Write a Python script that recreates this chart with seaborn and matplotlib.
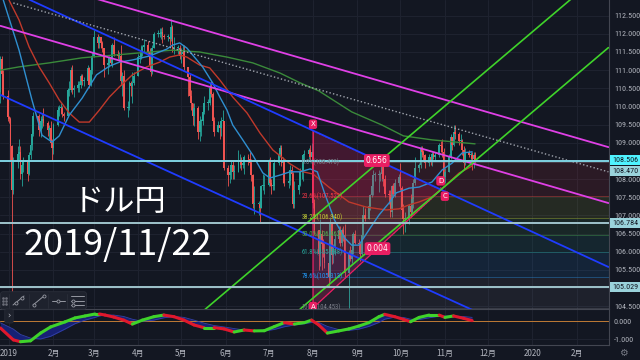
import numpy as np
import pandas as pd
import matplotlib
matplotlib.use("Agg")
import matplotlib.pyplot as plt
import matplotlib.dates as mdates
from matplotlib.patches import Polygon, FancyBboxPatch
from matplotlib.ticker import FormatStrFormatter, FuncFormatter
from matplotlib import font_manager
import seaborn as sns

# ------------------------------------------------------------------ data
start_date = "2018-12-24"
end_date = "2019-11-22"
first_open = 111.20
closes = [
    110.30, 110.40, 111.30, 110.90, 110.30, 109.70, 109.65, 108.90, 107.70, 108.50,
    108.70, 108.75, 108.15, 108.40, 108.50, 108.15, 108.65, 108.95, 109.25, 109.75,
    109.65, 109.35, 109.60, 109.65, 109.55, 109.35, 109.40, 109.00, 108.85, 109.50,
    109.90, 109.95, 109.95, 109.80, 109.75, 110.45, 110.45, 111.00, 110.45, 110.50,
    110.60, 110.60, 110.85, 110.70, 110.70, 111.05, 110.60, 111.00, 111.40, 111.90,
    111.75, 111.90, 111.75, 111.60, 111.15, 111.20, 111.35, 111.20, 111.70, 111.45,
    111.40, 111.40, 110.70, 110.85, 109.95, 109.95, 110.65, 110.55, 110.65, 110.85,
    111.35, 111.35, 111.50, 111.65, 111.70, 111.50, 111.15, 110.95, 111.60, 112.00,
    112.00, 112.00, 112.05, 111.95, 111.90, 111.90, 111.85, 112.20, 111.60, 111.60,
    111.60, 111.40, 111.45, 111.50, 111.10, 110.80, 110.30, 110.10, 109.75, 109.95,
    109.30, 109.60, 109.60, 109.85, 110.10, 110.10, 110.50, 110.35, 109.60, 109.30,
    109.50, 109.40, 109.60, 109.60, 108.30, 108.10, 108.20, 108.40, 108.20, 108.20,
    108.50, 108.50, 108.40, 108.40, 108.60, 108.55, 108.45, 108.10, 107.30, 107.30,
    107.30, 107.20, 107.80, 107.80, 107.85, 108.50, 107.90, 107.80, 107.80, 108.45,
    108.70, 108.85, 108.45, 108.50, 107.90, 107.95, 108.25, 108.15, 107.30, 107.70,
    107.85, 108.20, 108.20, 108.65, 108.70, 108.80, 108.60, 108.75, 107.35, 106.60,
    105.95, 106.50, 106.20, 106.05, 105.70, 105.30, 106.75, 105.90, 106.10, 106.35,
    106.60, 106.25, 106.60, 106.45, 105.40, 105.95, 105.80, 106.05, 106.50, 106.25,
    106.20, 105.95, 106.45, 107.00, 106.90, 107.25, 107.55, 107.80, 108.10, 108.10,
    108.10, 108.15, 108.45, 108.00, 107.60, 107.55, 107.10, 107.80, 107.60, 107.90,
    108.05, 107.75, 107.15, 106.90, 106.90, 107.25, 107.10, 107.45, 107.90, 108.30,
    108.40, 108.85, 108.75, 108.65, 108.45, 108.60, 108.50, 108.70, 108.60, 108.65,
    108.95, 108.90, 108.75, 108.05, 108.20, 108.60, 109.15, 108.95, 109.30, 109.25,
    109.05, 109.05, 108.80, 108.45, 108.75, 108.65, 108.65, 108.55, 108.65, 108.51]
highs = [
    111.35, 110.55, 111.40, 111.40, 111.00, 110.45, 109.75, 109.70, 108.95, 108.60,
    108.90, 109.10, 108.90, 108.50, 108.60, 108.50, 108.75, 109.10, 109.35, 109.85,
    109.75, 109.80, 109.75, 109.80, 109.95, 109.60, 109.50, 109.60, 109.10, 109.55,
    110.00, 110.05, 110.10, 110.00, 109.85, 110.50, 110.70, 111.10, 111.15, 110.60,
    110.70, 110.70, 110.90, 110.90, 110.80, 111.15, 111.10, 111.05, 111.50, 112.10,
    112.00, 111.95, 111.90, 111.80, 111.60, 111.30, 111.40, 111.50, 111.75, 111.90,
    111.55, 111.50, 111.70, 110.95, 111.00, 110.15, 110.70, 110.70, 110.95, 110.95,
    111.45, 111.45, 111.70, 111.70, 111.85, 111.80, 111.60, 111.20, 111.70, 112.05,
    112.10, 112.15, 112.15, 112.20, 112.00, 112.00, 112.00, 112.40, 112.25, 111.90,
    111.70, 111.70, 111.60, 111.70, 111.70, 111.10, 110.90, 110.45, 110.10, 110.10,
    110.00, 109.75, 109.65, 109.95, 110.30, 110.20, 110.65, 110.70, 110.40, 109.70,
    109.60, 109.60, 109.70, 109.90, 109.60, 108.40, 108.25, 108.50, 108.50, 108.40,
    108.80, 108.70, 108.60, 108.55, 108.65, 108.70, 108.75, 108.55, 108.15, 107.80,
    107.40, 107.40, 107.85, 108.15, 108.10, 108.55, 108.60, 108.00, 107.90, 108.55,
    108.75, 108.95, 108.95, 108.60, 108.50, 108.05, 108.40, 108.35, 108.20, 107.95,
    108.00, 108.30, 108.40, 108.70, 108.80, 108.85, 108.95, 109.00, 109.32, 107.45,
    106.60, 106.90, 106.60, 106.35, 106.25, 105.75, 106.95, 106.80, 106.20, 106.50,
    106.70, 106.70, 106.65, 106.70, 106.75, 106.05, 106.15, 106.10, 106.55, 106.60,
    106.35, 106.25, 106.50, 107.25, 107.20, 107.30, 107.60, 107.95, 108.25, 108.20,
    108.25, 108.20, 108.50, 108.50, 108.10, 107.70, 107.70, 107.85, 107.90, 108.00,
    108.15, 108.45, 107.80, 107.30, 107.10, 107.30, 107.60, 107.60, 108.00, 108.60,
    108.45, 108.90, 108.90, 108.80, 108.70, 108.70, 108.70, 108.75, 108.75, 108.75,
    109.00, 109.05, 109.10, 108.85, 108.30, 108.70, 109.25, 109.15, 109.50, 109.50,
    109.30, 109.25, 109.10, 108.90, 108.85, 108.80, 108.75, 108.75, 108.75, 108.75]
lows = [
    110.20, 110.20, 110.10, 110.50, 110.20, 109.60, 109.55, 108.50, 104.90, 107.60,
    108.30, 108.50, 108.00, 107.80, 108.20, 107.95, 108.10, 108.55, 108.80, 109.20,
    109.50, 109.20, 109.15, 109.40, 109.45, 109.20, 109.10, 108.90, 108.50, 108.70,
    109.45, 109.75, 109.80, 109.70, 109.60, 109.70, 110.30, 110.40, 110.35, 110.25,
    110.40, 110.40, 110.50, 110.60, 110.55, 110.65, 110.50, 110.55, 110.90, 111.35,
    111.60, 111.60, 111.60, 111.50, 110.80, 110.90, 111.10, 111.15, 111.10, 111.40,
    111.30, 111.25, 110.60, 110.30, 109.90, 109.70, 109.90, 110.30, 110.10, 110.60,
    110.85, 111.20, 111.30, 111.40, 111.50, 111.40, 111.10, 110.85, 110.90, 111.60,
    111.90, 111.90, 111.85, 111.75, 111.85, 111.80, 111.70, 111.80, 111.50, 111.45,
    111.45, 111.30, 111.20, 111.35, 111.00, 110.30, 110.20, 109.90, 109.50, 109.45,
    109.10, 109.05, 109.20, 109.50, 109.80, 109.90, 110.05, 110.25, 109.50, 109.20,
    109.30, 109.10, 109.20, 109.50, 108.25, 107.80, 107.90, 108.00, 108.00, 108.00,
    108.20, 108.30, 108.25, 108.30, 108.15, 108.40, 108.20, 107.95, 107.20, 107.05,
    107.00, 106.80, 107.20, 107.70, 107.60, 107.80, 107.80, 107.60, 107.70, 107.70,
    108.40, 108.60, 108.35, 107.90, 107.80, 107.75, 107.85, 107.95, 107.20, 107.20,
    107.60, 107.80, 108.00, 107.95, 108.50, 108.55, 108.50, 108.45, 107.20, 106.50,
    105.50, 105.60, 105.50, 105.85, 105.55, 105.05, 105.20, 105.65, 105.70, 105.90,
    106.25, 106.15, 106.15, 106.30, 105.30, 104.45, 105.75, 105.70, 105.95, 106.20,
    106.10, 105.75, 105.90, 106.40, 106.85, 106.90, 107.15, 107.50, 107.55, 107.95,
    107.65, 107.95, 107.95, 107.80, 107.50, 107.30, 106.95, 106.95, 107.50, 107.50,
    107.80, 107.70, 107.00, 106.50, 106.55, 106.75, 106.95, 107.00, 107.20, 107.85,
    108.20, 108.30, 108.60, 108.50, 108.30, 108.35, 108.40, 108.35, 108.55, 108.50,
    108.60, 108.75, 108.60, 107.90, 107.90, 108.20, 108.55, 108.80, 108.90, 109.10,
    108.95, 108.90, 108.65, 108.25, 108.40, 108.60, 108.40, 108.25, 108.30, 108.45]

blue_ma_dates = [
    "2018-12-28", "2019-01-08", "2019-01-17", "2019-01-24", "2019-01-31", "2019-02-05",
    "2019-02-12", "2019-02-21", "2019-03-03", "2019-03-12", "2019-03-19", "2019-03-28",
    "2019-04-09", "2019-04-21", "2019-04-25", "2019-04-30", "2019-05-05", "2019-05-12",
    "2019-05-16", "2019-05-23", "2019-05-28", "2019-06-02", "2019-06-06", "2019-06-13",
    "2019-06-20", "2019-06-27", "2019-07-02", "2019-07-09", "2019-07-16", "2019-07-23",
    "2019-07-30", "2019-08-04", "2019-08-09", "2019-08-16", "2019-08-23", "2019-08-28",
    "2019-09-02", "2019-09-09", "2019-09-16", "2019-09-23", "2019-09-28", "2019-10-07",
    "2019-10-14", "2019-10-23", "2019-10-30", "2019-11-06", "2019-11-13", "2019-11-20"]
blue_ma = [
    112.93, 111.55, 110.18, 109.21, 109.02, 109.19, 109.76, 110.23, 110.87, 111.11,
    111.22, 111.28, 111.39, 111.58, 111.69, 111.75, 111.61, 111.28, 111.09, 110.65,
    110.26, 109.90, 109.49, 109.08, 108.66, 108.17, 108.03, 108.11, 108.20, 108.20,
    108.28, 108.20, 107.62, 106.87, 106.38, 106.18, 106.18, 106.60, 107.01, 107.34,
    107.62, 107.75, 107.78, 107.92, 108.25, 108.44, 108.72, 108.75]
red_ma_dates = [
    "2019-01-01", "2019-01-08", "2019-01-15", "2019-01-22", "2019-01-29", "2019-02-05",
    "2019-02-12", "2019-02-19", "2019-02-26", "2019-03-05", "2019-03-12", "2019-03-19",
    "2019-03-28", "2019-04-07", "2019-04-16", "2019-04-23", "2019-04-30", "2019-05-05",
    "2019-05-14", "2019-05-21", "2019-05-28", "2019-06-06", "2019-06-16", "2019-06-25",
    "2019-07-04", "2019-07-16", "2019-07-25", "2019-08-01", "2019-08-12", "2019-08-26",
    "2019-09-07", "2019-09-21", "2019-09-30", "2019-10-07", "2019-10-14", "2019-10-23",
    "2019-11-01", "2019-11-11", "2019-11-20"]
red_ma = [
    112.93, 112.38, 111.64, 111.09, 110.65, 110.18, 109.82, 109.57, 109.57, 109.90,
    110.26, 110.54, 110.87, 111.09, 111.22, 111.36, 111.42, 111.36, 111.14, 111.06,
    110.73, 110.26, 109.82, 109.27, 108.80, 108.42, 108.20, 108.14, 107.78, 107.37,
    107.23, 107.15, 107.18, 107.29, 107.37, 107.51, 107.81, 108.17, 108.36]
green_ma_dates = [
    "2018-12-26", "2019-01-08", "2019-01-29", "2019-02-21", "2019-03-17", "2019-04-09",
    "2019-04-25", "2019-05-14", "2019-06-02", "2019-06-20", "2019-07-09", "2019-07-23",
    "2019-08-05", "2019-08-28", "2019-09-18", "2019-10-03", "2019-10-23", "2019-11-22"]
green_ma = [
    111.00, 111.09, 111.20, 111.34, 111.42, 111.50, 111.55, 111.50, 111.36, 111.20,
    110.92, 110.65, 110.43, 109.85, 109.49, 109.19, 109.08, 108.97]

# drawn trend lines: (start date, start price, end date, end price)
magenta_lines = [("2018-12-26", 113.73, "2020-02-23", 108.88),
                 ("2018-12-26", 112.22, "2020-02-23", 107.34)]
blue_lines = [("2018-12-26", 113.31, "2020-02-23", 105.58),
              ("2018-12-26", 110.32, "2020-02-23", 102.69)]
green_lines = [("2019-05-12", 104.22, "2020-01-31", 113.06),
               ("2019-07-23", 104.42, "2020-02-23", 111.62)]
dotted_line = ("2019-01-04", 112.85, "2020-02-23", 108.20)

level_prices = [108.506, 106.784, 105.029]
last_price = 108.506
ma_tag_price = 108.470

fib_start = "2019-08-01"
fib_label_date = "2019-07-24"
fib_pcts = ["0.0%", "23.6%", "38.2%", "50.0%", "61.8%", "78.6%", "100%"]
fib_prices = [108.470, 107.522, 106.940, 106.462, 105.988, 105.313, 104.453]

pattern_names = ["X", "A", "B", "C", "D"]
pattern_dates = ["2019-08-01", "2019-08-01", "2019-10-29", "2019-10-30", "2019-10-29"]
pattern_prices = [109.32, 104.45, 107.70, 107.72, 107.76]
ratio_xb = "0.656"
ratio_ac = "0.004"

macd_dates = [
    "2018-12-26", "2019-01-04", "2019-01-09", "2019-01-16", "2019-01-23", "2019-01-30",
    "2019-02-09", "2019-02-16", "2019-02-23", "2019-03-02", "2019-03-05", "2019-03-09",
    "2019-03-15", "2019-03-22", "2019-03-28", "2019-04-04", "2019-04-12", "2019-04-19",
    "2019-04-26", "2019-05-03", "2019-05-10", "2019-05-17", "2019-05-24", "2019-05-31",
    "2019-06-07", "2019-06-14", "2019-06-21", "2019-06-28", "2019-07-05", "2019-07-12",
    "2019-07-19", "2019-07-26", "2019-07-31", "2019-08-05", "2019-08-11", "2019-08-19",
    "2019-08-26", "2019-09-02", "2019-09-09", "2019-09-16", "2019-09-20", "2019-09-27",
    "2019-10-03", "2019-10-08", "2019-10-14", "2019-10-21", "2019-10-28", "2019-11-01",
    "2019-11-07", "2019-11-14", "2019-11-20"]
macd_vals = [
    -0.39, -1.05, -1.15, -1.10, -0.67, -0.33, -0.05, 0.17, 0.28, 0.39, 0.39, 0.33,
    0.22, 0.05, -0.17, 0.05, 0.24, 0.33, 0.24, 0.05, -0.22, -0.37, -0.37, -0.44,
    -0.61, -0.50, -0.55, -0.54, -0.31, -0.09, -0.17, -0.09, 0.05, -0.22, -0.67, -0.55,
    -0.44, -0.28, -0.09, 0.24, 0.37, 0.24, 0.09, -0.04, 0.20, 0.33, 0.33, 0.20,
    0.28, 0.15, 0.02]
signal_vals = [
    -0.10, -0.45, -0.75, -0.95, -1.00, -0.85, -0.45, -0.15, 0.05, 0.20, 0.28, 0.33,
    0.33, 0.25, 0.10, -0.02, 0.05, 0.18, 0.25, 0.20, 0.05, -0.12, -0.25, -0.33,
    -0.42, -0.50, -0.53, -0.55, -0.47, -0.32, -0.22, -0.15, -0.08, -0.08, -0.30, -0.48,
    -0.52, -0.45, -0.30, -0.08, 0.10, 0.22, 0.20, 0.10, 0.08, 0.18, 0.27, 0.28,
    0.27, 0.25, 0.20]

month_ticks = pd.date_range("2019-01-01", "2020-02-01", freq="MS")
month_labels = ["2019", "2月", "3月", "4月", "5月", "6月", "7月", "8月", "9月",
                "10月", "11月", "12月", "2020", "2月"]
price_ticks = [104.5, 105.0, 105.5, 106.0, 106.5, 107.0, 107.5, 108.0, 108.5,
               109.0, 109.5, 110.0, 110.5, 111.0, 111.5, 112.0, 112.5]
covered_ticks = [105.0, 108.5]          # hidden under the price tags
macd_ticks = [0.0, -1.0]

title_pair = "ドル円"
title_date = "2019/11/22"

# ------------------------------------------------------------------ style
BG = "#131722"
GRID = "#1f2330"
TXT = "#b2b5be"
sns.set_theme(style="dark", rc={"axes.facecolor": BG, "figure.facecolor": BG,
                                "grid.color": GRID, "axes.edgecolor": "#434651"})
plt.rcParams["font.family"] = ["Noto Sans CJK JP", "DejaVu Sans"]


def pick_font(cands):
    for c in cands:
        try:
            font_manager.findfont(font_manager.FontProperties(family=c),
                                  fallback_to_default=False)
            return c
        except Exception:
            continue
    return "DejaVu Sans"


NARROW = pick_font(["Liberation Sans Narrow", "DejaVu Sans Condensed", "Roboto Condensed",
                    "Liberation Sans"])
AXFONT = [NARROW, "DejaVu Sans"]
AXSIZE = 5.8 if NARROW in ("Liberation Sans Narrow", "DejaVu Sans Condensed",
                           "Roboto Condensed") else 5.0

fig = plt.figure(figsize=(6.4, 3.6), dpi=100)
fig.patch.set_facecolor(BG)
W, H = 640.0, 360.0
ax = fig.add_axes([0, 1 - 309 / H, 609 / W, 309 / H])
axm = fig.add_axes([0, 15 / H, 609 / W, 36 / H], sharex=ax)
for a in (ax, axm):
    a.set_facecolor(BG)

x_left = pd.Timestamp("2018-12-25 17:00")
x_right = pd.Timestamp("2020-02-23 10:00")
ax.set_xlim(x_left, x_right)
ax.set_ylim(104.422, 112.932)
axm.set_ylim(-1.333, 0.667)

# ------------------------------------------------------------------ candles
dates = pd.bdate_range(start_date, end_date)
df = pd.DataFrame({"date": dates, "close": closes, "high": highs, "low": lows})
df["open"] = [first_open] + closes[:-1]
up = df["close"] >= df["open"]
cols = np.where(up, "#26a69a", "#ef5350")
ax.vlines(df["date"], df["low"], df["high"], colors=cols, linewidth=0.6, zorder=4)
body_bottom = np.minimum(df["open"], df["close"])
body_h = np.maximum((df["close"] - df["open"]).abs(), 0.03)
ax.bar(df["date"], body_h, bottom=body_bottom, width=1.3, color=cols,
       linewidth=0, zorder=4)

# ------------------------------------------------------------------ fib box
fx = [pd.Timestamp(fib_start), x_right]
fib_colors = ["#787b86", "#f23645", "#c0ca33", "#4caf50", "#26a69a", "#2196f3", "#787b86"]
for i in range(len(fib_prices) - 1):
    ax.fill_between(fx, fib_prices[i + 1], fib_prices[i], color=fib_colors[i + 1],
                    alpha=0.11, linewidth=0, zorder=4.2)
for pct, p, c in zip(fib_pcts, fib_prices, fib_colors):
    ax.plot(fx, [p, p], color=c, lw=0.7, alpha=0.38, zorder=4.3)
    ax.text(pd.Timestamp(fib_label_date), p, f"{pct}({p:.3f})", color=c,
            fontsize=4.8, ha="left", va="center", zorder=7, family=AXFONT)

# ------------------------------------------------------------------ XABCD pattern
PINK = "#e91e63"
pn = [mdates.date2num(pd.Timestamp(d)) for d in pattern_dates]
pts = list(zip(pn, pattern_prices))
ax.add_patch(Polygon([pts[0], pts[1], pts[2]], closed=True, fc=PINK, alpha=0.22,
                     ec="none", zorder=4.5))
ax.add_patch(Polygon([pts[2], pts[3], pts[4]], closed=True, fc=PINK, alpha=0.22,
                     ec="none", zorder=4.5))
ax.plot(pn, pattern_prices, color=PINK, lw=0.9, zorder=6)
ax.plot([pn[0], pn[2]], [pattern_prices[0], pattern_prices[2]], color=PINK, lw=0.6,
        ls=(0, (2, 2)), alpha=0.6, zorder=6)
ax.plot([pn[1], pn[3]], [pattern_prices[1], pattern_prices[3]], color=PINK, lw=0.6,
        ls=(0, (2, 2)), alpha=0.6, zorder=6)
tagbox = dict(boxstyle="round,pad=0.25,rounding_size=0.3", fc=PINK, ec="none")
label_offsets = {"X": (0, 5), "A": (0, 1), "D": (0, 5), "C": (2, -5)}
for name, xn, p in zip(pattern_names, pn, pattern_prices):
    if name in label_offsets:
        ax.annotate(name, xy=(xn, p), xytext=label_offsets[name], textcoords="offset points",
                    ha="center", va="center", fontsize=5, color="white", bbox=tagbox,
                    zorder=9, annotation_clip=False, family="DejaVu Sans")
for txt, i, j in ((ratio_xb, 0, 2), (ratio_ac, 1, 3)):
    ax.annotate(txt, xy=((pn[i] + pn[j]) / 2, (pattern_prices[i] + pattern_prices[j]) / 2),
                ha="center", va="center", fontsize=5.5, color="white", bbox=tagbox,
                zorder=9, family="DejaVu Sans")

# ------------------------------------------------------------------ moving averages
sns.lineplot(x=pd.to_datetime(green_ma_dates), y=green_ma, ax=ax, color="#3a8a3a",
             lw=1.0, zorder=5)
sns.lineplot(x=pd.to_datetime(red_ma_dates), y=red_ma, ax=ax, color="#c0392b",
             lw=1.0, zorder=5)
sns.lineplot(x=pd.to_datetime(blue_ma_dates), y=blue_ma, ax=ax, color="#2f8fd0",
             lw=1.0, zorder=5)

# ------------------------------------------------------------------ trend lines
for d0, p0, d1, p1 in magenta_lines:
    ax.plot([pd.Timestamp(d0), pd.Timestamp(d1)], [p0, p1], color="#e040e6", lw=1.3, zorder=6)
for d0, p0, d1, p1 in blue_lines:
    ax.plot([pd.Timestamp(d0), pd.Timestamp(d1)], [p0, p1], color="#1f3cff", lw=1.3, zorder=6)
for d0, p0, d1, p1 in green_lines:
    ax.plot([pd.Timestamp(d0), pd.Timestamp(d1)], [p0, p1], color="#3fd32a", lw=1.2, zorder=6)
d0, p0, d1, p1 = dotted_line
ax.plot([pd.Timestamp(d0), pd.Timestamp(d1)], [p0, p1], color="#a0a4ad", lw=1.0,
        ls=(0, (1, 1.6)), zorder=6)

for i, lv in enumerate(level_prices):
    ax.axhline(lv, color="#7fd3e2" if i == 0 else "#9fc4cc", lw=1.4, zorder=6.5)

# ------------------------------------------------------------------ axes cosmetics
ax.set_xticks(month_ticks)
ax.set_yticks(price_ticks)
ax.grid(True, color=GRID, lw=0.7)
ax.set_axisbelow(True)
ax.yaxis.tick_right()
ax.yaxis.set_major_formatter(FuncFormatter(
    lambda v, pos: "" if any(abs(v - c) < 1e-6 for c in covered_ticks) else f"{v:.3f}"))
ax.tick_params(axis="y", length=0, pad=3.5, labelsize=AXSIZE, labelcolor=TXT)
ax.tick_params(axis="x", length=0, labelbottom=False)
for lab in ax.get_yticklabels():
    lab.set_family(AXFONT)
for s in ("top", "left", "bottom"):
    ax.spines[s].set_visible(False)
ax.spines["right"].set_color("#434651")
ax.spines["right"].set_linewidth(0.8)
ax.set_xlabel("")
ax.set_ylabel("")

yt = ax.get_yaxis_transform()


def price_tag(val, bg, dy=0.0):
    ax.annotate(f"{val:.3f}", xy=(1.0, val), xycoords=yt, xytext=(2.2, dy),
                textcoords="offset points", ha="left", va="center", fontsize=AXSIZE,
                color="#131722", family=AXFONT, annotation_clip=False, zorder=10,
                bbox=dict(boxstyle="square,pad=0.25", fc=bg, ec="none"))


price_tag(last_price, "#4ff3ff", 0.5)
price_tag(ma_tag_price, "#9ad3dc", -6.5)
price_tag(level_prices[1], "#9ad3dc", 0)
price_tag(level_prices[2], "#9ad3dc", 0)

# big title text
ax.text(0.197, 0.345, title_pair, transform=ax.transAxes, fontsize=22.5, color="white",
        ha="center", va="center", zorder=12)
ax.text(0.194, 0.207, title_date, transform=ax.transAxes, fontsize=26, color="white",
        ha="center", va="center", zorder=12)

# ------------------------------------------------------------------ MACD panel
md = pd.to_datetime(macd_dates)
axm.fill_between(md, macd_vals, signal_vals, color="#18227a", alpha=0.95, lw=0, zorder=2)
sns.lineplot(x=md, y=signal_vals, ax=axm, color="#3442a8", lw=0.6, zorder=3)
axm.axhline(0, color="#c07a35", lw=0.7, zorder=2.5)
for i in range(len(macd_vals) - 1):
    c = "#3fd32a" if macd_vals[i + 1] >= macd_vals[i] else "#e0182d"
    axm.plot(md[i:i + 2], macd_vals[i:i + 2], color=c, lw=2.2, solid_capstyle="round",
             zorder=4)
axm.set_yticks(macd_ticks)
axm.yaxis.tick_right()
axm.yaxis.set_major_formatter(FormatStrFormatter("%.3f"))
axm.tick_params(axis="y", length=0, pad=3.5, labelsize=AXSIZE, labelcolor=TXT)
axm.set_xticks(month_ticks)
axm.set_xticklabels(month_labels)
axm.tick_params(axis="x", length=0, pad=3, labelsize=5.8, labelcolor=TXT)
axm.grid(True, color=GRID, lw=0.7)
axm.set_axisbelow(True)
axm.set_xlabel("")
axm.set_ylabel("")
for lab in axm.get_yticklabels():
    lab.set_family(AXFONT)
axm.spines["left"].set_visible(False)
for s in ("top", "bottom", "right"):
    axm.spines[s].set_color("#434651")
    axm.spines[s].set_linewidth(0.8)
axm.set_xlim(x_left, x_right)

# ------------------------------------------------------------------ toolbar widgets
tb = fig.add_axes([0, 50 / H, 87 / W, 19 / H])
tb.set_xlim(0, 87)
tb.set_ylim(0, 19)
tb.axis("off")
tb.add_patch(FancyBboxPatch((0.5, 0.8), 86, 17.5, boxstyle="round,pad=0,rounding_size=2.5",
                            fc="#1e222d", ec="#2a2e39", lw=0.6))
icon = "#9598a1"
for gx in (3.2, 5.6):
    for gy in (6.5, 9.5, 12.5):
        tb.plot(gx, gy, "o", ms=0.9, color="#6a6d78")
for sx in (9, 29, 48, 67):
    tb.plot([sx, sx], [2.5, 16.5], color="#2a2e39", lw=0.6)
tb.plot([13, 24], [5, 14], color=icon, lw=0.7)
tb.plot([15.5, 21.5], [7, 12], "o", ms=2.2, mfc="#1e222d", mec=icon, mew=0.6)
tb.plot([33, 44], [5, 14], color=icon, lw=0.7)
tb.plot([33.5, 43.5], [5.4, 13.6], "o", ms=2.2, mfc="#1e222d", mec=icon, mew=0.6)
tb.plot([51.5, 64.5], [9.5, 9.5], color=icon, lw=0.7)
tb.plot([58], [9.5], "o", ms=2.2, mfc="#1e222d", mec=icon, mew=0.6)
for yy in (14, 9.5, 5):
    tb.plot([71, 84], [yy, yy], color=icon, lw=0.7)
tb.plot([72.5, 72.5], [9.5, 5], "o", ms=2.2, mfc="#1e222d", mec=icon, mew=0.6)

fig.text(9 / W, 1 - 316 / H, "›", fontsize=6, color=TXT, ha="center", va="center",
         family="DejaVu Sans",
         bbox=dict(boxstyle="round,pad=0.3,rounding_size=0.2", fc="#1e222d", ec="#2a2e39", lw=0.5))
fig.text(623 / W, 1 - 353 / H, "⚙", fontsize=7, color="#787b86", ha="center", va="center",
         family="DejaVu Sans")

fig.savefig("out.png", dpi=100, facecolor=BG)
